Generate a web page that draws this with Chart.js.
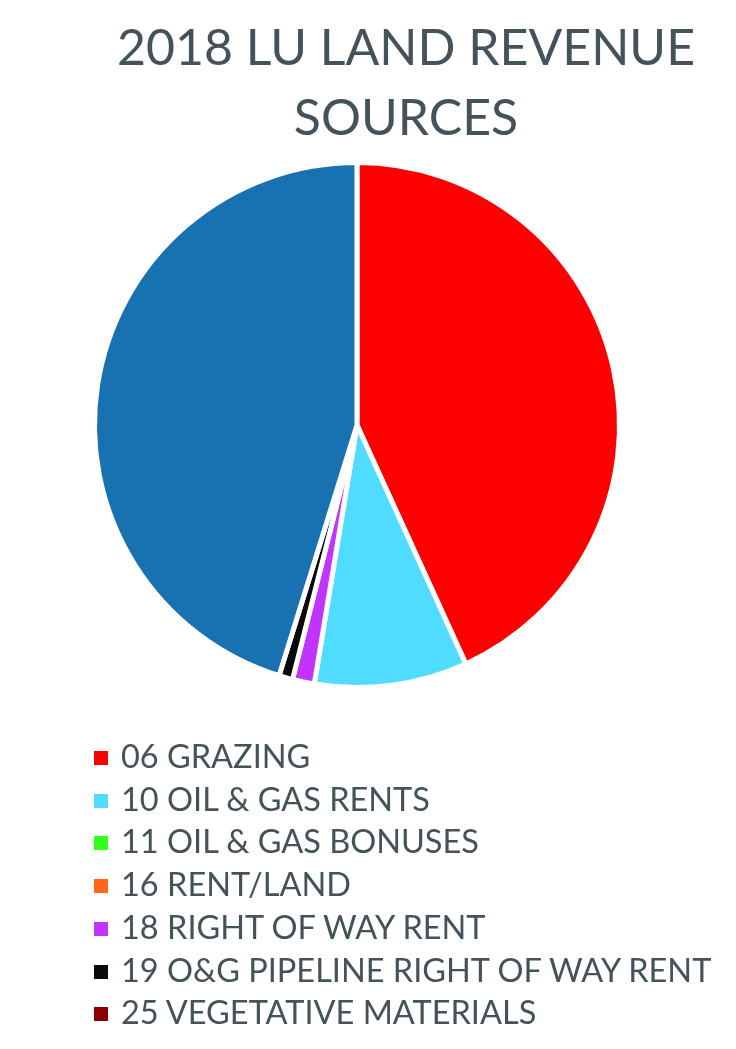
<!DOCTYPE html>
<html>
<head>
<meta charset="utf-8">
<script src="https://cdn.jsdelivr.net/npm/chart.js@4/dist/chart.umd.min.js"></script>
<style>
  body { margin: 0; background: #fff; }
  #wrap { position: relative; width: 736px; height: 1049px; font-family: Lato, "Open Sans", sans-serif; color: #44535a; }
  #pie { position: absolute; left: 0; top: 0; }
  #title { position: absolute; left: 76px; width: 660px; top: 11px; text-align: center; font-size: 50px; line-height: 70px; }
  #legend { position: absolute; left: 94px; top: 735px; font-size: 32.5px; line-height: 42.7px; }
  #legend div { white-space: nowrap; }
  #legend span.box { display: inline-block; width: 14px; height: 14px; margin-right: 13px; vertical-align: 3px; }
</style>
</head>
<body>
<div id="wrap">
  <canvas id="pie" width="736" height="1049"></canvas>
  <div id="title">2018 LU LAND REVENUE<br>SOURCES</div>
  <div id="legend"></div>
</div>
<script>
// share of 2018 revenue, %; last slice has no visible legend entry
var labels = ['06 GRAZING', '10 OIL & GAS RENTS', '11 OIL & GAS BONUSES', '16 RENT/LAND',
              '18 RIGHT OF WAY RENT', '19 O&G PIPELINE RIGHT OF WAY RENT', '25 VEGETATIVE MATERIALS', 'OTHER'];
var values = [43.2, 9.4, 0, 0, 1.35, 0.85, 0, 45.2];
var colors = ['#ff0000', '#4fdcff', '#33ff1a', '#ff6619', '#c133ff', '#0a0a0a', '#8b0000', '#1872b1'];
var legendCount = 7;

var legend = document.getElementById('legend');
for (var i = 0; i < legendCount; i++) {
    var row = document.createElement('div');
    row.innerHTML = '<span class="box" style="background:' + colors[i] + '"></span>';
    row.appendChild(document.createTextNode(labels[i]));
    legend.appendChild(row);
}

new Chart(document.getElementById('pie'), {
    type: 'pie',
    data: {
        labels: labels,
        datasets: [{
            data: values,
            backgroundColor: colors,
            borderColor: '#ffffff',
            borderWidth: 5
        }]
    },
    options: {
        responsive: false,
        animation: false,
        layout: { padding: { top: 160, bottom: 359, left: 0, right: 22 } },
        plugins: {
            legend: { display: false },
            title: { display: false },
            tooltip: { enabled: false }
        }
    }
});
</script>
</body>
</html>
